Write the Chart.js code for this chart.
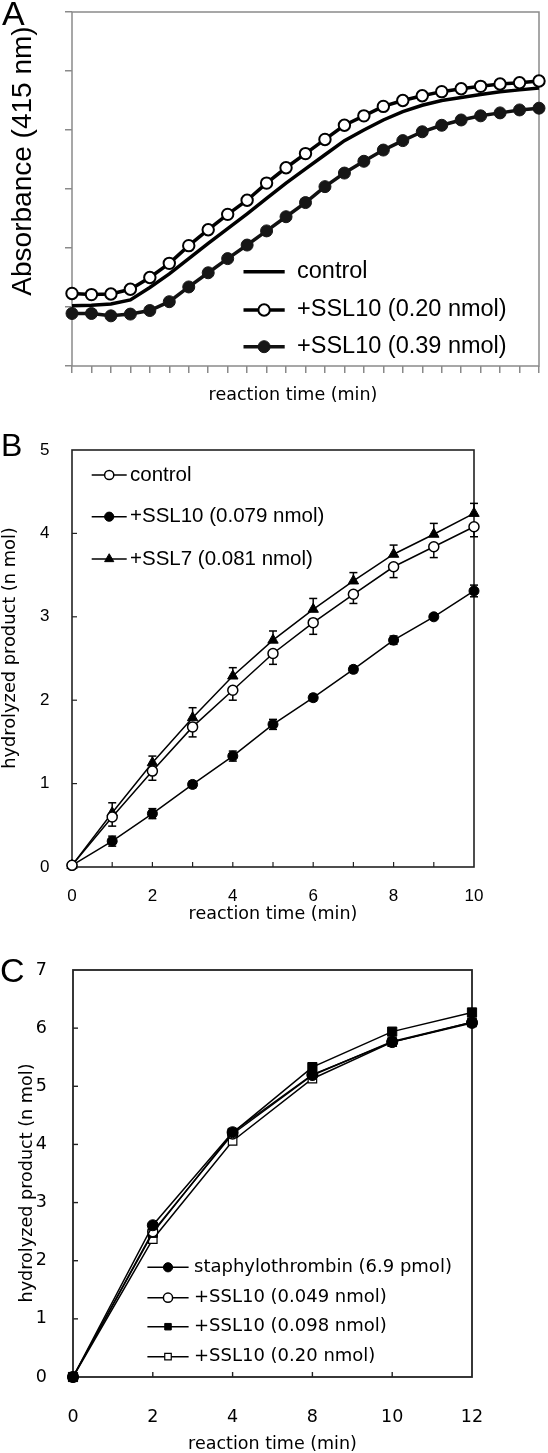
<!DOCTYPE html>
<html><head><meta charset="utf-8">
<script src="https://cdn.jsdelivr.net/npm/chart.js@4.4.1/dist/chart.umd.min.js"></script>
<style>
html,body{margin:0;padding:0;background:#fff;}
body{width:548px;height:1453px;position:relative;overflow:hidden;}
.panel{position:absolute;left:0;width:548px;}
canvas{display:block;}
</style></head><body>
<div class="panel" style="top:0;height:420px"><canvas id="cA" width="548" height="420" style="width:548px;height:420px"></canvas></div>
<div class="panel" style="top:420px;height:505px"><canvas id="cB" width="548" height="505" style="width:548px;height:505px"></canvas></div>
<div class="panel" style="top:925px;height:528px"><canvas id="cC" width="548" height="528" style="width:548px;height:528px"></canvas></div>
<script>
// ---------- Panel A data ----------
const aTime = ['0','1','2','3','4','5','6','7','8','9','10','11','12','13','14','15','16','17','18','19','20','21','22','23','24'];
const aControl = [1.02,1.03,1.05,1.12,1.33,1.56,1.82,2.08,2.33,2.58,2.84,3.10,3.34,3.58,3.82,4.00,4.17,4.31,4.42,4.50,4.55,4.60,4.65,4.68,4.71];
const aSSL10_020 = [1.23,1.21,1.22,1.30,1.50,1.74,2.04,2.31,2.57,2.81,3.10,3.36,3.60,3.84,4.08,4.24,4.40,4.50,4.58,4.65,4.70,4.74,4.78,4.80,4.83];
const aSSL10_039 = [0.89,0.89,0.85,0.88,0.94,1.09,1.34,1.58,1.82,2.05,2.29,2.53,2.77,3.04,3.27,3.47,3.66,3.82,3.97,4.08,4.17,4.24,4.29,4.34,4.37];
const aYTicks = [0,1,2,3,4,5,6];

// ---------- Panel B data ----------
const bTime = [0,1,2,3,4,5,6,7,8,9,10];
const bXTickLabels = [0,2,4,6,8,10];
const bYTickLabels = [0,1,2,3,4,5];
const bControl = [0.02,0.60,1.15,1.68,2.12,2.56,2.93,3.27,3.60,3.84,4.08];
const bControlErrMinus = [0,0.11,0.11,0.12,0.12,0.13,0.14,0.11,0.13,0.13,0.12];
const bSSL10 = [0.02,0.31,0.64,0.99,1.33,1.71,2.03,2.37,2.72,3.00,3.31];
const bSSL10Err = [0.02,0.06,0.06,0.04,0.06,0.06,0.04,0.04,0.05,0.03,0.07];
const bSSL7 = [0.02,0.65,1.25,1.79,2.29,2.72,3.09,3.43,3.75,3.99,4.24];
const bSSL7ErrPlus = [0,0.12,0.08,0.12,0.10,0.11,0.13,0.10,0.11,0.13,0.12];

// ---------- Panel C data ----------
const cTimeLabels = ['0','2','4','8','10','12'];
const cYTickLabels = [0,1,2,3,4,5,6,7];
const cStaph = [0,2.61,4.21,5.20,5.76,6.09];
const cSSL10_049 = [0,2.50,4.18,5.19,5.77,6.10];
const cSSL10_098 = [0,2.48,4.20,5.33,5.94,6.27];
const cSSL10_020 = [0,2.37,4.06,5.13,5.76,6.10];

const ARIAL = '"Liberation Sans", Arial, sans-serif';
const GOTH = '"DejaVu Sans", "Noto Sans", sans-serif';

// ---------- helper plugins ----------
function drawMarker(ctx, style, x, y, r, fill, stroke, lw) {
  ctx.save();
  ctx.beginPath();
  if (style === 'rect') {
    const s = r * Math.SQRT1_2;
    ctx.rect(x - s, y - s, 2 * s, 2 * s);
  } else if (style === 'triangle') {
    ctx.moveTo(x, y - r);
    ctx.lineTo(x + r * Math.sin(Math.PI / 3), y + r / 2);
    ctx.lineTo(x - r * Math.sin(Math.PI / 3), y + r / 2);
    ctx.closePath();
  } else {
    ctx.arc(x, y, r, 0, Math.PI * 2);
  }
  ctx.fillStyle = fill; ctx.fill();
  if (lw > 0) { ctx.lineWidth = lw; ctx.strokeStyle = stroke; ctx.stroke(); }
  ctx.restore();
}

const framePlugin = {
  id: 'frame',
  beforeDatasetsDraw(chart, args, opts) {
    const a = chart.chartArea, ctx = chart.ctx;
    ctx.save();
    ctx.strokeStyle = opts.color; ctx.lineWidth = opts.width;
    ctx.strokeRect(a.left, a.top, a.right - a.left, a.bottom - a.top);
    ctx.restore();
  }
};

const innerTicksPlugin = {
  id: 'innerTicks',
  beforeDatasetsDraw(chart, args, opts) {
    if (!opts || !opts.enabled) return;
    const a = chart.chartArea, ctx = chart.ctx;
    ctx.save();
    ctx.strokeStyle = opts.color; ctx.lineWidth = opts.width;
    const xs = chart.scales.x, ys = chart.scales.y;
    xs.ticks.forEach((t, i) => {
      const px = xs.getPixelForTick(i);
      if (Math.abs(px - a.left) < 1 || Math.abs(px - a.right) < 1) return;
      ctx.beginPath(); ctx.moveTo(px, a.bottom); ctx.lineTo(px, a.bottom - opts.len); ctx.stroke();
    });
    ys.ticks.forEach((t, i) => {
      const py = ys.getPixelForTick(i);
      if (Math.abs(py - a.top) < 1 || Math.abs(py - a.bottom) < 1) return;
      ctx.beginPath(); ctx.moveTo(a.left, py); ctx.lineTo(a.left + opts.len, py); ctx.stroke();
    });
    ctx.restore();
  }
};

const errorBarPlugin = {
  id: 'errorBars',
  beforeDatasetsDraw(chart, args, opts) {
    if (!opts || !opts.enabled) return;
    const ctx = chart.ctx, ys = chart.scales.y;
    ctx.save();
    ctx.strokeStyle = opts.color; ctx.lineWidth = opts.width;
    chart.data.datasets.forEach((ds, di) => {
      const meta = chart.getDatasetMeta(di);
      meta.data.forEach((pt, i) => {
        const v = ds.data[i];
        const plus = ds.errPlus ? ds.errPlus[i] : 0;
        const minus = ds.errMinus ? ds.errMinus[i] : 0;
        if (!plus && !minus) return;
        const x = pt.x;
        const yTop = ys.getPixelForValue(v + plus);
        const yBot = ys.getPixelForValue(v - minus);
        ctx.beginPath(); ctx.moveTo(x, yTop); ctx.lineTo(x, yBot); ctx.stroke();
        const c = opts.cap / 2;
        if (plus) { ctx.beginPath(); ctx.moveTo(x - c, yTop); ctx.lineTo(x + c, yTop); ctx.stroke(); }
        if (minus) { ctx.beginPath(); ctx.moveTo(x - c, yBot); ctx.lineTo(x + c, yBot); ctx.stroke(); }
      });
    });
    ctx.restore();
  }
};

const insideLegendPlugin = {
  id: 'insideLegend',
  afterDraw(chart, args, opts) {
    if (!opts || !opts.enabled) return;
    const ctx = chart.ctx;
    chart.data.datasets.forEach((ds, i) => {
      const y = opts.rows[i];
      ctx.save();
      ctx.strokeStyle = ds.borderColor; ctx.lineWidth = opts.lineWidth;
      ctx.beginPath(); ctx.moveTo(opts.x1, y); ctx.lineTo(opts.x2, y); ctx.stroke();
      ctx.restore();
      if (ds.pointRadius > 0) {
        drawMarker(ctx, ds.pointStyle || 'circle', (opts.x1 + opts.x2) / 2, y,
          opts.markerR ? opts.markerR * (ds.legendScale || 1) : ds.pointRadius,
          ds.pointBackgroundColor, ds.pointBorderColor, ds.pointBorderWidth);
      }
      ctx.save();
      ctx.fillStyle = '#000'; ctx.font = opts.font;
      ctx.textAlign = 'left'; ctx.textBaseline = 'middle';
      ctx.fillText(ds.label, opts.textX, y);
      ctx.restore();
    });
  }
};

const textsPlugin = {
  id: 'texts',
  afterDraw(chart, args, opts) {
    if (!opts || !opts.items) return;
    const ctx = chart.ctx;
    opts.items.forEach(it => {
      ctx.save();
      ctx.translate(it.x, it.y);
      if (it.rot) ctx.rotate(it.rot * Math.PI / 180);
      ctx.fillStyle = '#000'; ctx.font = it.font;
      ctx.textAlign = it.align || 'center';
      ctx.textBaseline = it.baseline || 'middle';
      ctx.fillText(it.text, 0, 0);
      ctx.restore();
    });
  }
};

const commonPlugins = [framePlugin, innerTicksPlugin, errorBarPlugin, insideLegendPlugin, textsPlugin];

// ---------- Panel A ----------
new Chart(document.getElementById('cA'), {
  type: 'line',
  data: {
    labels: aTime,
    datasets: [
      { label: 'control', data: aControl, borderColor: '#000', borderWidth: 3.5, pointRadius: 0, tension: 0, clip: false },
      { label: '+SSL10 (0.20 nmol)', data: aSSL10_020, borderColor: '#000', borderWidth: 3.5, tension: 0, clip: false,
        pointStyle: 'circle', pointRadius: 5.7, pointBackgroundColor: '#fff', pointBorderColor: '#000', pointBorderWidth: 2 },
      { label: '+SSL10 (0.39 nmol)', data: aSSL10_039, borderColor: '#111', borderWidth: 3.5, tension: 0, clip: false,
        pointStyle: 'circle', pointRadius: 6, pointBackgroundColor: '#161616', pointBorderColor: '#161616', pointBorderWidth: 1 }
    ]
  },
  options: {
    responsive: false, animation: false, events: [],
    layout: { padding: { top: 12, right: 9, left: 0, bottom: 0 } },
    plugins: {
      legend: { display: false }, tooltip: { enabled: false },
      frame: { color: '#8a8a8a', width: 1.5 },
      insideLegend: { enabled: true, x1: 243.5, x2: 284.7, lineWidth: 3.5, textX: 297, rows: [271.7, 310, 346.7], font: '23.5px ' + ARIAL },
      texts: { items: [
        { text: 'A', x: 2, y: 25, font: '34px ' + ARIAL, align: 'left', baseline: 'alphabetic' },
        { text: 'Absorbance (415 nm)', x: 23, y: 161, rot: -90, font: '28px ' + ARIAL },
        { text: 'reaction time (min)', x: 293, y: 395, font: '17.5px ' + GOTH }
      ] }
    },
    scales: {
      x: { type: 'category', offset: false,
        ticks: { display: false, autoSkip: false },
        grid: { drawOnChartArea: false, drawTicks: true, tickLength: 7, color: '#8a8a8a', lineWidth: 1.5 },
        border: { display: false },
        afterFit: s => { s.height = 54; } },
      y: { type: 'linear', min: aYTicks[0], max: aYTicks[aYTicks.length - 1],
        ticks: { display: false, stepSize: 1 },
        grid: { drawOnChartArea: false, drawTicks: true, tickLength: 7, color: '#8a8a8a', lineWidth: 1.5 },
        border: { display: false },
        afterFit: s => { s.width = 72; } }
    }
  },
  plugins: commonPlugins
});

// ---------- Panel B ----------
new Chart(document.getElementById('cB'), {
  type: 'line',
  data: {
    labels: bTime,
    datasets: [
      { label: 'control', data: bControl, errMinus: bControlErrMinus, borderColor: '#000', borderWidth: 1.5, tension: 0, clip: false,
        pointStyle: 'circle', pointRadius: 5, pointBackgroundColor: '#fff', pointBorderColor: '#000', pointBorderWidth: 1.5 },
      { label: '+SSL10 (0.079 nmol)', data: bSSL10, errPlus: bSSL10Err, errMinus: bSSL10Err, borderColor: '#000', borderWidth: 1.5, tension: 0, clip: false,
        pointStyle: 'circle', pointRadius: 5, pointBackgroundColor: '#000', pointBorderColor: '#000', pointBorderWidth: 1 },
      { label: '+SSL7 (0.081 nmol)', data: bSSL7, errPlus: bSSL7ErrPlus, borderColor: '#000', borderWidth: 1.5, tension: 0, clip: false,
        pointStyle: 'triangle', pointRadius: 6, pointBackgroundColor: '#000', pointBorderColor: '#000', pointBorderWidth: 1, legendScale: 1.15 }
    ]
  },
  options: {
    responsive: false, animation: false, events: [],
    layout: { padding: { top: 30, right: 74, left: 0, bottom: 0 } },
    plugins: {
      legend: { display: false }, tooltip: { enabled: false },
      frame: { color: '#222', width: 1.6 },
      innerTicks: { enabled: true, len: 5, color: '#222', width: 1.2 },
      errorBars: { enabled: true, color: '#000', width: 1.5, cap: 8 },
      insideLegend: { enabled: true, x1: 91.7, x2: 126.7, lineWidth: 1.5, markerR: 4.6, textX: 130, rows: [55, 96.7, 139], font: '20.5px ' + ARIAL },
      texts: { items: [
        { text: 'B', x: 1, y: 36, font: '32px ' + ARIAL, align: 'left', baseline: 'alphabetic' },
        { text: 'hydrolyzed product (n mol)', x: 10.5, y: 228, rot: -90, font: '17.8px ' + GOTH }
      ] }
    },
    scales: {
      x: { type: 'linear', min: bTime[0], max: bTime[bTime.length - 1],
        ticks: { stepSize: 1, autoSkip: false, maxRotation: 0, padding: 12.5, color: '#000',
          font: { family: ARIAL, size: 17, lineHeight: 1 },
          callback: v => bXTickLabels.includes(v) ? String(v) : '' },
        grid: { display: false }, border: { display: false },
        title: { display: true, text: 'reaction time (min)', color: '#000', font: { family: GOTH, size: 17.5, lineHeight: 1 }, padding: { top: 0, bottom: 2 } },
        afterFit: s => { s.height = 58; } },
      y: { type: 'linear', min: bYTickLabels[0], max: bYTickLabels[bYTickLabels.length - 1],
        ticks: { stepSize: 1, padding: 14.5, color: '#000', font: { family: ARIAL, size: 17, lineHeight: 1 },
          callback: v => bYTickLabels.includes(v) ? String(v) : '' },
        grid: { display: false }, border: { display: false },
        afterFit: s => { s.width = 72; } }
    }
  },
  plugins: commonPlugins
});

// ---------- Panel C ----------
new Chart(document.getElementById('cC'), {
  type: 'line',
  data: {
    labels: cTimeLabels,
    datasets: [
      { label: 'staphylothrombin (6.9 pmol)', data: cStaph, borderColor: '#000', borderWidth: 1.5, tension: 0, clip: false,
        pointStyle: 'circle', pointRadius: 5.5, pointBackgroundColor: '#000', pointBorderColor: '#000', pointBorderWidth: 1 },
      { label: '+SSL10 (0.049 nmol)', data: cSSL10_049, borderColor: '#000', borderWidth: 1.5, tension: 0, clip: false,
        pointStyle: 'circle', pointRadius: 5, pointBackgroundColor: '#fff', pointBorderColor: '#000', pointBorderWidth: 1.5 },
      { label: '+SSL10 (0.098 nmol)', data: cSSL10_098, borderColor: '#000', borderWidth: 1.5, tension: 0, clip: false,
        pointStyle: 'rect', pointRadius: 6.5, pointBackgroundColor: '#000', pointBorderColor: '#000', pointBorderWidth: 1 },
      { label: '+SSL10 (0.20 nmol)', data: cSSL10_020, borderColor: '#000', borderWidth: 1.5, tension: 0, clip: false,
        pointStyle: 'rect', pointRadius: 6, pointBackgroundColor: '#fff', pointBorderColor: '#000', pointBorderWidth: 1.2 }
    ]
  },
  options: {
    responsive: false, animation: false, events: [],
    layout: { padding: { top: 45, right: 76, left: 0, bottom: 0 } },
    plugins: {
      legend: { display: false }, tooltip: { enabled: false },
      frame: { color: '#222', width: 1.8 },
      innerTicks: { enabled: true, len: 5, color: '#222', width: 1.4 },
      insideLegend: { enabled: true, x1: 147.4, x2: 188.6, lineWidth: 1.5, markerR: 4.6, textX: 194, rows: [342.3, 372.7, 401.7, 431.7], font: '18px ' + GOTH },
      texts: { items: [
        { text: 'C', x: 0, y: 57, font: '34px ' + ARIAL, align: 'left', baseline: 'alphabetic' },
        { text: 'hydrolyzed product (n mol)', x: 27, y: 258, rot: -90, font: '17.6px ' + GOTH }
      ] }
    },
    scales: {
      x: { type: 'category', offset: false,
        ticks: { autoSkip: false, maxRotation: 0, padding: 24, color: '#000', font: { family: GOTH, size: 17.5, lineHeight: 1 } },
        grid: { display: false }, border: { display: false },
        title: { display: true, text: 'reaction time (min)', color: '#000', font: { family: GOTH, size: 17.5, lineHeight: 1 }, padding: { top: 0, bottom: 0 } },
        afterFit: s => { s.height = 76; } },
      y: { type: 'linear', min: cYTickLabels[0], max: cYTickLabels[cYTickLabels.length - 1],
        ticks: { stepSize: 1, padding: 18, color: '#000', font: { family: GOTH, size: 17.5, lineHeight: 1 },
          callback: v => cYTickLabels.includes(v) ? String(v) : '' },
        grid: { display: false }, border: { display: false },
        afterFit: s => { s.width = 73; } }
    }
  },
  plugins: commonPlugins
});
</script>
</body></html>
